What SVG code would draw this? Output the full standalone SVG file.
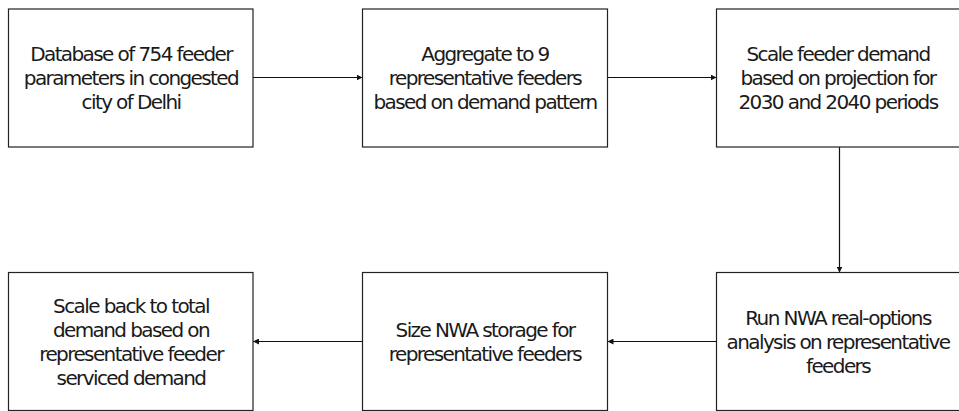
<svg xmlns="http://www.w3.org/2000/svg" width="959" height="411" viewBox="0 0 959 411">
<defs>
<style>
.box{fill:#fff;stroke:#222;stroke-width:1.2}
.t{font-family:"DejaVu Sans",sans-serif;font-size:20px;letter-spacing:-1.6px;fill:#1a1a1a;text-anchor:middle}
.c{stroke:#111;stroke-width:1.2;fill:none;marker-end:url(#ah)}
</style>
<marker id="ah" viewBox="0 0 10 10" refX="10" refY="5" markerWidth="6" markerHeight="6" markerUnits="userSpaceOnUse" orient="auto">
<path d="M0,0 L10,5 L0,10 z" fill="#111"/>
</marker>
</defs>
<rect width="959" height="411" fill="#fff"/>
<g id="connectors">
<line class="c" x1="253" y1="77.5" x2="362.5" y2="77.5"/>
<line class="c" x1="607.5" y1="77.5" x2="716.5" y2="77.5"/>
<line class="c" x1="839.5" y1="147" x2="839.5" y2="272.5"/>
<line class="c" x1="716.5" y1="341.5" x2="607.5" y2="341.5"/>
<line class="c" x1="362.5" y1="341.5" x2="253" y2="341.5"/>
</g>
<g id="n1">
<rect class="box" x="8.5" y="9" width="244.5" height="138"/>
<text class="t"><tspan x="131" y="61">Database of 754 feeder</tspan><tspan x="131" y="85">parameters in congested</tspan><tspan x="131" y="109">city of Delhi</tspan></text>
</g>
<g id="n2">
<rect class="box" x="362.5" y="9" width="245" height="138"/>
<text class="t"><tspan x="485" y="61">Aggregate to 9</tspan><tspan x="485" y="85">representative feeders</tspan><tspan x="485" y="109">based on demand pattern</tspan></text>
</g>
<g id="n3">
<rect class="box" x="716.5" y="9" width="245" height="138"/>
<text class="t"><tspan x="838" y="61">Scale feeder demand</tspan><tspan x="838" y="85">based on projection for</tspan><tspan x="838" y="109">2030 and 2040 periods</tspan></text>
</g>
<g id="n4">
<rect class="box" x="8.5" y="272.5" width="244.5" height="138"/>
<text class="t"><tspan x="131" y="313">Scale back to total</tspan><tspan x="131" y="337">demand based on</tspan><tspan x="131" y="361">representative feeder</tspan><tspan x="131" y="385">serviced demand</tspan></text>
</g>
<g id="n5">
<rect class="box" x="362.5" y="272.5" width="245" height="138"/>
<text class="t"><tspan x="485" y="337">Size NWA storage for</tspan><tspan x="485" y="361">representative feeders</tspan></text>
</g>
<g id="n6">
<rect class="box" x="716.5" y="272.5" width="245" height="138"/>
<text class="t"><tspan x="838" y="325">Run NWA real-options</tspan><tspan x="838" y="349">analysis on representative</tspan><tspan x="838" y="373">feeders</tspan></text>
</g>
</svg>
